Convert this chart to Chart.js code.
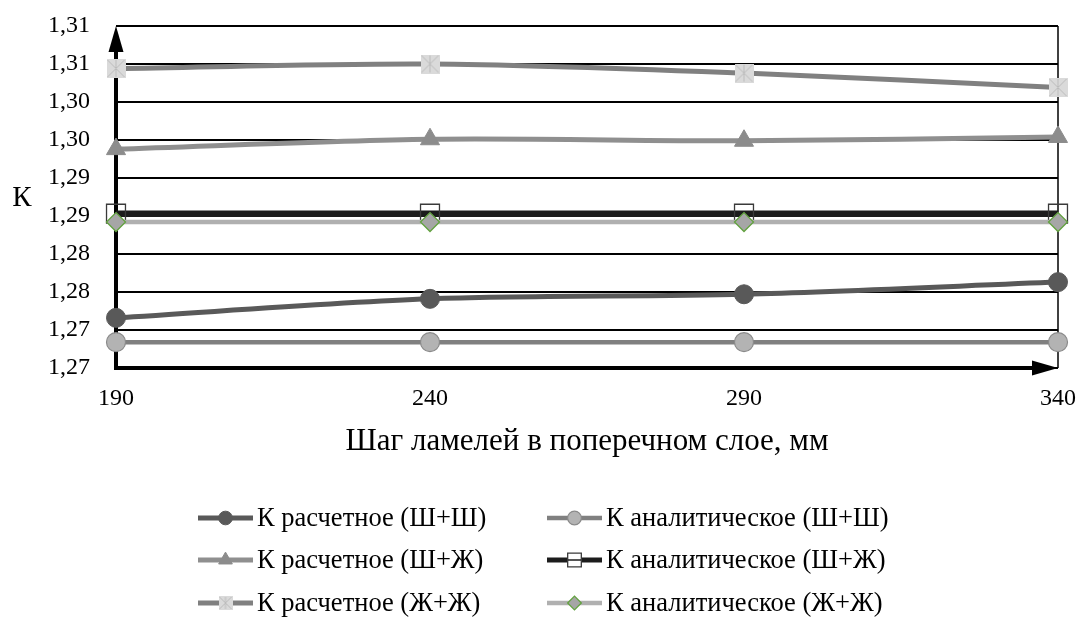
<!DOCTYPE html>
<html><head><meta charset="utf-8">
<script src="https://cdn.jsdelivr.net/npm/chart.js@4/dist/chart.umd.min.js"></script>
<style>html,body{margin:0;padding:0;background:#fff}#wrap{width:1081px;height:618px;position:relative}</style>
</head><body><div id="wrap"><canvas id="c" width="1081" height="618"></canvas></div>
<script>
const categories = ['190', '240', '290', '340'];
const calcShSh = [1.2716, 1.2741, 1.2747, 1.2763];
const anaShSh = [1.2684, 1.2684, 1.2684, 1.2684];
const calcShZh = [1.2938, 1.2951, 1.2949, 1.2954];
const anaShZh = [1.2853, 1.2853, 1.2853, 1.2853];
const calcZhZh = [1.3044, 1.3050, 1.3038, 1.3019];
const anaZhZh = [1.2842, 1.2842, 1.2842, 1.2842];
const yTickValues = [1.265, 1.27, 1.275, 1.28, 1.285, 1.29, 1.295, 1.30, 1.305, 1.31];
const yTickLabels = ['1,27', '1,27', '1,28', '1,28', '1,29', '1,29', '1,30', '1,30', '1,31', '1,31'];
const seriesNames = ['К расчетное (Ш+Ш)', 'К аналитическое (Ш+Ш)', 'К расчетное (Ш+Ж)', 'К аналитическое (Ш+Ж)', 'К расчетное (Ж+Ж)', 'К аналитическое (Ж+Ж)'];
const xTitle = 'Шаг ламелей в поперечном слое, мм';
const yTitle = 'К';

const FONT = '"Liberation Serif", "Times New Roman", serif';

function makeStar(s) {
  const c = document.createElement('canvas');
  c.width = s; c.height = s;
  const g = c.getContext('2d');
  g.fillStyle = '#dadada'; g.fillRect(0, 0, s, s);
  g.strokeStyle = '#bcbcbc'; g.lineWidth = 1;
  g.beginPath();
  g.moveTo(1, 1); g.lineTo(s - 1, s - 1);
  g.moveTo(s - 1, 1); g.lineTo(1, s - 1);
  g.moveTo(s / 2, 1); g.lineTo(s / 2, s - 1);
  g.stroke();
  return c;
}
const starBig = makeStar(19);
const starSmall = makeStar(14);

const styles = [
  {line: '#595959', w: 5, ps: 'circle', r: 9.5, bg: '#595959', bc: '#595959', bw: 1},
  {line: '#808080', w: 4.5, ps: 'circle', r: 9.5, bg: '#b3b3b3', bc: '#8a8a8a', bw: 1.2},
  {line: '#8f8f8f', w: 5, ps: 'triangle', r: 11, bg: '#8c8c8c', bc: '#8c8c8c', bw: 1},
  {line: '#1c1c1c', w: 6.5, ps: 'rect', r: 13.4, bg: 'rgba(0,0,0,0)', bc: '#3a3a3a', bw: 1.3},
  {line: '#808080', w: 5, ps: starBig, r: 9.5, bg: '#dadada', bc: '#bcbcbc', bw: 1},
  {line: '#b0b0b0', w: 4.5, ps: 'rectRot', r: 9.5, bg: '#a6a6a6', bc: '#62a23f', bw: 1.3}
];
const dataArrays = [calcShSh, anaShSh, calcShZh, anaShZh, calcZhZh, anaZhZh];

const datasets = dataArrays.map((d, i) => ({
  label: seriesNames[i],
  data: d,
  borderColor: styles[i].line,
  borderWidth: styles[i].w,
  pointStyle: styles[i].ps,
  pointRadius: styles[i].r,
  pointHoverRadius: styles[i].r,
  pointBackgroundColor: styles[i].bg,
  pointBorderColor: styles[i].bc,
  pointBorderWidth: styles[i].bw,
  tension: 0.3,
  fill: false,
  clip: false,
  order: 6 - i
}));

const legendLayout = {rows: [518, 560, 603], cols: [198, 547], sample: 55, gap: 4};

const decor = {
  id: 'decor',
  beforeDatasetsDraw(chart) {
    const {ctx, chartArea: a} = chart;
    ctx.save();
    ctx.strokeStyle = '#000'; ctx.fillStyle = '#000';
    ctx.lineWidth = 1.5;
    ctx.beginPath(); ctx.moveTo(a.right, a.top); ctx.lineTo(a.right, a.bottom); ctx.stroke();
    ctx.lineWidth = 4;
    ctx.beginPath(); ctx.moveTo(a.left, a.bottom + 2); ctx.lineTo(a.left, a.top + 22); ctx.stroke();
    ctx.beginPath(); ctx.moveTo(a.left, a.top); ctx.lineTo(a.left - 7.5, a.top + 26); ctx.lineTo(a.left + 7.5, a.top + 26); ctx.closePath(); ctx.fill();
    ctx.beginPath(); ctx.moveTo(a.left - 2, a.bottom); ctx.lineTo(a.right - 22, a.bottom); ctx.stroke();
    ctx.beginPath(); ctx.moveTo(a.right, a.bottom); ctx.lineTo(a.right - 26, a.bottom - 7.5); ctx.lineTo(a.right - 26, a.bottom + 7.5); ctx.closePath(); ctx.fill();
    ctx.restore();
  },
  afterDraw(chart) {
    const ctx = chart.ctx;
    ctx.save();
    ctx.fillStyle = '#000';
    ctx.font = '29px ' + FONT;
    ctx.textAlign = 'center'; ctx.textBaseline = 'middle';
    ctx.fillText(yTitle, 22, 198);
    ctx.font = '26.5px ' + FONT;
    ctx.textAlign = 'left';
    chart.data.datasets.forEach((ds, i) => {
      const row = Math.floor(i / 2), col = i % 2;
      const y = legendLayout.rows[row];
      const x0 = legendLayout.cols[col];
      const x1 = x0 + legendLayout.sample;
      const cx = (x0 + x1) / 2;
      ctx.strokeStyle = ds.borderColor;
      ctx.lineWidth = Math.min(ds.borderWidth, 5);
      ctx.beginPath(); ctx.moveTo(x0, y); ctx.lineTo(x1, y); ctx.stroke();
      const ps = ds.pointStyle === starBig ? starSmall : ds.pointStyle;
      const isOpen = ps === 'rect';
      ctx.fillStyle = isOpen ? '#ffffff' : ds.pointBackgroundColor;
      ctx.strokeStyle = ds.pointBorderColor;
      ctx.lineWidth = ds.pointBorderWidth;
      Chart.helpers.drawPoint(ctx, {pointStyle: ps, radius: ds.pointRadius * 0.72, rotation: 0, borderWidth: ds.pointBorderWidth}, cx, y);
      if (isOpen) {
        ctx.strokeStyle = ds.borderColor; ctx.lineWidth = 1.5;
        ctx.beginPath(); ctx.moveTo(cx - 6.5, y); ctx.lineTo(cx + 6.5, y); ctx.stroke();
      }
      ctx.fillStyle = '#000';
      ctx.fillText(ds.label, x1 + legendLayout.gap, y + 1);
    });
    ctx.restore();
  }
};

new Chart(document.getElementById('c'), {
  type: 'line',
  data: {labels: categories, datasets},
  options: {
    responsive: false,
    animation: false,
    devicePixelRatio: 1,
    layout: {padding: {top: 26, right: 23, bottom: 150, left: 0}},
    plugins: {legend: {display: false}, tooltip: {enabled: false}},
    scales: {
      x: {
        type: 'category',
        offset: false,
        grid: {display: false, drawTicks: false},
        border: {display: false},
        ticks: {color: '#000', font: {family: FONT, size: 24}, padding: 16, maxRotation: 0, autoSkip: false},
        title: {display: true, text: xTitle, color: '#000', font: {family: FONT, size: 31}, padding: {top: 0, bottom: 8}},
        afterFit(s) { s.height = 100; s.paddingLeft = 0; s.paddingRight = 0; }
      },
      y: {
        min: 1.265, max: 1.31,
        grid: {color: '#000', lineWidth: 2, drawTicks: false},
        border: {display: false},
        afterBuildTicks(s) { s.ticks = yTickValues.map(v => ({value: v})); },
        ticks: {color: '#000', font: {family: FONT, size: 24}, padding: 26, callback: (v, i) => yTickLabels[i]},
        afterFit(s) { s.width = 116; s.paddingTop = 0; s.paddingBottom = 0; }
      }
    }
  },
  plugins: [decor]
});
</script>
</body></html>
